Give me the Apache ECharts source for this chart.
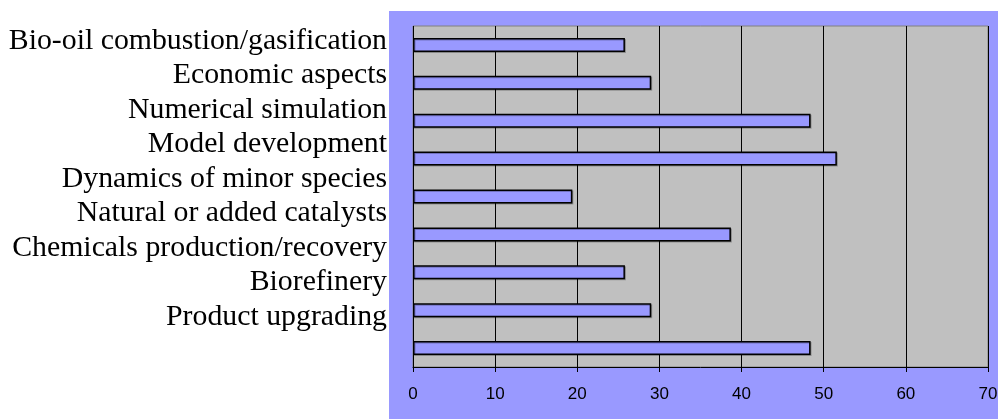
<!DOCTYPE html>
<html>
<head>
<meta charset="utf-8">
<title>Research topics</title>
<script src="https://cdn.jsdelivr.net/npm/echarts@6/dist/echarts.min.js"></script>
<style>
  html, body { margin: 0; padding: 0; background: #ffffff; }
  #chart { width: 998px; height: 419px; }
</style>
</head>
<body>
<div id="chart"></div>
<script>
// Topic names, top to bottom
const topics = [
  'Bio-oil combustion/gasification',
  'Economic aspects',
  'Numerical simulation',
  'Model development',
  'Dynamics of minor species',
  'Natural or added catalysts',
  'Chemicals production/recovery',
  'Biorefinery',
  'Product upgrading'
];

// Share of papers per topic (%), same order as the topics
const shares = [25.8, 29.0, 48.4, 51.6, 19.4, 38.7, 25.8, 29.0, 48.4];

// Value axis ticks
const tickMin = 0;
const tickMax = 70;
const tickStep = 10;

const chart = echarts.init(document.getElementById('chart'), null, { renderer: 'canvas' });

chart.setOption({
  animation: false,
  backgroundColor: '#ffffff',
  graphic: [{
    type: 'rect',
    z: -10,
    silent: true,
    shape: { x: 389, y: 11, width: 609, height: 408 },
    style: { fill: '#9999ff' }
  }],
  grid: [
    {
      // plot area with the bars
      left: 413, right: 10, top: 26, bottom: 52,
      containLabel: false,
      outerBoundsMode: 'none',
      show: true,
      backgroundColor: '#c0c0c0',
      borderColor: '#808080',
      borderWidth: 1
    },
    {
      // narrow strip whose axis carries the topic names
      left: 388, width: 1, top: 24, height: 310,
      containLabel: false,
      outerBoundsMode: 'none',
      show: false
    }
  ],
  xAxis: [
    {
      gridIndex: 0,
      type: 'value',
      min: tickMin,
      max: tickMax,
      interval: tickStep,
      axisLine: { show: true, lineStyle: { color: '#000000', width: 1 } },
      axisTick: { show: true, length: 5, lineStyle: { color: '#000000' } },
      axisLabel: {
        margin: 19,
        color: '#000000',
        fontFamily: 'Liberation Sans, Arial, sans-serif',
        fontSize: 17
      },
      splitLine: { show: true, lineStyle: { color: '#000000', width: 1 } }
    },
    {
      gridIndex: 1,
      type: 'value',
      min: 0,
      max: 100,
      show: false
    }
  ],
  yAxis: [
    {
      gridIndex: 0,
      type: 'category',
      data: topics,
      inverse: true,
      axisLine: { show: false },
      axisTick: { show: false },
      axisLabel: { show: false },
      splitLine: { show: false }
    },
    {
      gridIndex: 1,
      type: 'category',
      position: 'left',
      data: topics,
      inverse: true,
      axisLine: { show: false },
      axisTick: { show: false },
      splitLine: { show: false },
      axisLabel: {
        show: true,
        interval: 0,
        margin: 1,
        color: '#000000',
        fontFamily: 'Liberation Serif, Times New Roman, serif',
        fontSize: 29.8
      }
    }
  ],
  series: [
    {
      type: 'bar',
      xAxisIndex: 0,
      yAxisIndex: 0,
      data: shares,
      barWidth: 14,
      itemStyle: {
        color: '#9999ff',
        borderColor: '#000000',
        borderWidth: 1.5,
        shadowColor: 'rgba(0,0,0,0.25)',
        shadowOffsetX: 1,
        shadowOffsetY: 1,
        shadowBlur: 0
      }
    },
    {
      // same values on the name strip so its axis gets laid out; kept invisible
      type: 'bar',
      xAxisIndex: 1,
      yAxisIndex: 1,
      data: shares,
      silent: true,
      itemStyle: { color: 'rgba(0,0,0,0)' }
    }
  ]
});
</script>
</body>
</html>
